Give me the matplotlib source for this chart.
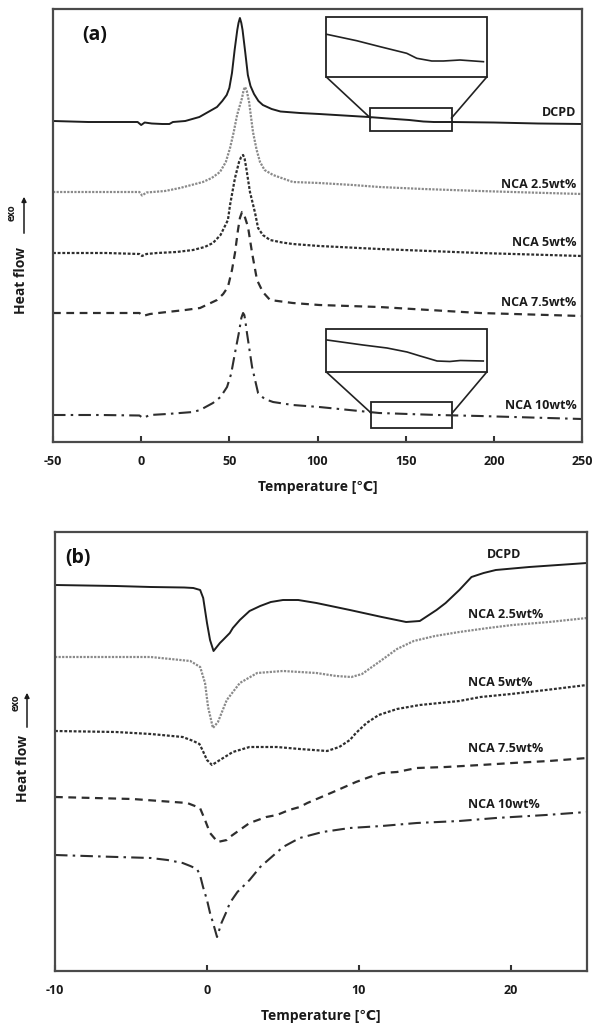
import matplotlib
matplotlib.use("Agg")
import matplotlib.pyplot as plt
from matplotlib.patches import Rectangle, FancyArrowPatch

plt.rcParams['font.family'] = ['Open Sans', 'DejaVu Sans']
plt.rcParams['font.weight'] = 'bold'

# ---------------- (a) heating scans, -50 .. 250 C ----------------
a_dcpd_T = [-50, -50, -30, -10, -2, 0, 2, 6, 12, 16, 18, 25, 33, 40, 43, 46, 48.5, 50, 51.5, 53,
            54.5, 55.2, 56, 56.8, 57.5, 59, 60.5, 62, 64, 66.5, 69, 74, 79, 90, 101, 115, 129, 140,
            152, 160, 166, 176, 200, 225, 250]
a_dcpd_v = [338, 321, 320, 320, 320, 317, 319.5, 318.5, 318, 318, 320, 321, 325, 332, 335, 341, 347,
            354, 369, 392, 412, 419, 424, 419, 412, 390, 367, 356, 348, 341, 337, 333, 330.5, 329,
            328, 326.5, 325, 323.5, 322, 320.5, 320, 320, 319.5, 318.5, 318]

a_nca25_T = [-50, -20, -1, 0.5, 3, 13.5, 22, 35, 40, 44.7, 48, 50.4, 52.5, 54.4, 57.2, 58.1, 58.9, 59.9,
             61.2, 63.4, 65.5, 67.4, 70, 74.8, 86, 101, 120, 135, 160, 192, 220, 250]
a_nca25_v = [250, 250, 250, 246.5, 249.5, 251, 254, 260, 264, 270, 280, 294, 310, 327, 344, 352, 355,
             351, 340, 310, 292, 280, 272, 267, 260, 259, 257, 255, 253, 251, 249.5, 248]

a_nca5_T = [-50, -20, -1, 0.5, 3, 9, 20, 29.4, 36, 40.7, 45, 49.2, 50.4, 53.2, 55.5, 56.7, 57.8, 58.7,
            59.5, 61.7, 64.6, 66.3, 69, 73.1, 80, 86, 101, 135, 192, 250]
a_nca5_v = [189, 189, 188, 186, 188, 189, 190, 192, 195, 199, 207, 222, 237, 264, 280, 285, 287, 283,
            275, 250, 229, 214, 207, 202, 199.5, 198, 196, 193, 189, 186]

a_nca75_T = [-50, -20, -1, 1, 5, 14.7, 25, 33.4, 43, 46.5, 49.2, 51.5, 53.2, 54.9, 56, 57.2, 58, 58.8,
             60.6, 62.9, 65.7, 69, 73.1, 86, 101, 135, 192, 250]
a_nca75_v = [129, 129, 129, 126, 128, 130, 132, 134, 142, 148, 155, 172, 189, 212, 224, 230, 229, 225,
             215, 189, 162, 150, 142, 139, 137, 135, 129, 126]

a_nca10_T = [-50, -23, -1, 1, 5, 14.7, 29.4, 33.4, 40.7, 45, 48.7, 51, 53.2, 55.5, 56.8, 57.8, 58.5, 59,
             60, 62.9, 66.3, 70, 74.8, 86, 101, 135, 168, 192, 250]
a_nca10_v = [27, 27, 26.5, 24, 27, 28, 30, 32, 39, 45, 55, 68, 89, 110, 124, 129, 127, 122, 109, 75, 49,
             43, 40, 37, 35, 29, 27, 26, 23]

# magnified 130-176 C segments shown in the two zoom boxes
zoom_top_T = [105.2, 122.2, 135.5, 150.6, 156.3, 164.8, 171.4, 180.8, 194.1]
zoom_top_v = [407.7, 401.3, 395.3, 388.7, 383.7, 381, 381, 382, 380.3]
zoom_bot_T = [105.4, 125.8, 139.4, 150.8, 158.2, 162.1, 167.8, 175, 181, 194]
zoom_bot_v = [102, 97, 94, 90, 86, 84, 81, 80.5, 81.5, 81]

# ---------------- (b) cooling scans, -10 .. 25 C ----------------
b_dcpd_T = [-10, -6, -3.7, -1.5, -0.9, -0.45, -0.25, 0, 0.2, 0.43, 0.85, 1.05, 1.5, 1.7, 2.16, 2.8,
            3.5, 4.2, 5.0, 6.0, 7.2, 9.4, 11.5, 13.1, 14.0, 15.1, 15.7, 16.6, 17.4, 18.2, 19.0, 21.2, 25]
b_dcpd_v = [386, 385, 384, 383.5, 383, 381, 373, 348, 331, 320, 328, 331, 338, 343, 351, 360, 365,
            369, 371, 371, 368, 361, 354, 349, 350, 361, 368, 381, 394, 398, 401, 404, 408]

b_nca25_T = [-10, -6, -3.7, -1.1, -0.45, -0.13, 0.07, 0.39, 0.72, 1.3, 2.16, 3.3, 5.0, 7.2, 8.5, 9.5,
             10.2, 11.5, 12.5, 13.6, 15, 16.6, 18.5, 20.1, 22.5, 25]
b_nca25_v = [314, 314, 314, 310, 304, 288, 264, 243, 249, 271, 288, 298, 300, 298, 295, 294, 297, 311,
             322, 330, 335, 339, 343, 346, 349, 353]

b_nca5_T = [-10, -6, -3.7, -1.6, -0.9, -0.5, -0.3, 0, 0.33, 0.85, 1.7, 2.8, 4.6, 6.1, 7.9, 8.7, 9.4,
            9.8, 10.5, 11.3, 12.5, 14, 16.6, 18, 20, 22.3, 25]
b_nca5_v = [240, 239, 237, 234, 230, 227, 221, 211, 206, 211, 219, 224, 224, 222, 220, 224, 231, 238,
            248, 256, 262, 266, 270, 274, 277, 281, 286]

b_nca75_T = [-10, -4.9, -1.3, -0.46, -0.13, 0.2, 0.7, 1.3, 1.5, 2.8, 3.9, 4.6, 5.4, 6.1, 6.6, 8.3, 9.8,
             10.7, 11.5, 12.5, 13.8, 15.7, 18, 20.1, 22.5, 25]
b_nca75_v = [174, 172, 168, 163, 151, 138, 129, 131, 134, 148, 154, 156, 161, 164, 168, 179, 189, 194,
             198, 199, 203, 204, 206, 208, 210, 213]

b_nca10_T = [-10, -5.9, -3.7, -2.6, -1.6, -1.1, -0.66, -0.46, -0.26, 0, 0.2, 0.4, 0.66, 0.95, 1.3, 1.5,
             2.0, 2.8, 3.5, 5.0, 6.1, 7.6, 9.4, 11.5, 13.8, 16.6, 19, 22.3, 25]
b_nca10_v = [116, 114, 113, 111, 108, 105, 102, 96, 84, 71, 58, 48, 34, 48, 60, 68, 79, 91, 104, 124,
             133, 139, 143, 145, 148, 150, 153, 156, 159]

series_names = ["DCPD", "NCA 2.5wt%", "NCA 5wt%", "NCA 7.5wt%", "NCA 10wt%"]
a_ticks = [-50, 0, 50, 100, 150, 200, 250]
b_ticks = [-10, 0, 10, 20]

styles = [
    dict(color="#1e1e1e", lw=1.4, ls="-"),
    dict(color="#8a8a8a", lw=1.6, ls=(0, (1.0, 0.6))),
    dict(color="#2e2e2e", lw=1.6, ls=(0, (1.3, 0.8))),
    dict(color="#2e2e2e", lw=1.6, ls=(0, (3.5, 2.5))),
    dict(color="#2e2e2e", lw=1.5, ls=(0, (6, 2.5, 1.2, 2.5))),
]

W, H = 595, 1023
fig = plt.figure(figsize=(W / 100, H / 100), dpi=100)


def add_axes_px(l, t, r, b):
    return fig.add_axes([l / W, 1 - b / H, (r - l) / W, (b - t) / H])


def style_axes(ax, ticks):
    for s in ax.spines.values():
        s.set_linewidth(1.6)
        s.set_color("#4a4a4a")
    ax.set_yticks([])
    ax.set_xticks(ticks)
    ax.set_xticklabels([str(t) for t in ticks], fontsize=9, fontweight="bold", color="#1a1a1a")
    ax.tick_params(axis="x", direction="in", length=4, width=1.5, color="#333333", pad=9)
    ax.set_xlabel("Temperature [\u2103]", fontsize=10, fontweight="bold", color="#1a1a1a", labelpad=9)


def heat_flow_label(x_text, y_text, x_arrow, y0, y1, x_exo, y_exo):
    fig.text(x_text / W, 1 - y_text / H, "Heat flow", rotation=90, ha="center", va="center",
             fontsize=10, fontweight="bold", color="#1a1a1a")
    fig.add_artist(FancyArrowPatch(
        (x_arrow / W, 1 - y0 / H), (x_arrow / W, 1 - y1 / H), transform=fig.transFigure,
        arrowstyle="-|>", mutation_scale=7, lw=1.1, color="#1a1a1a"))
    fig.text(x_exo / W, 1 - y_exo / H, "exo", rotation=90, ha="center", va="center",
             fontsize=7, fontweight="bold", color="#1a1a1a")


# ---- panel (a)
ax1 = add_axes_px(53, 9, 582, 442)
a_T = [a_dcpd_T, a_nca25_T, a_nca5_T, a_nca75_T, a_nca10_T]
a_v = [a_dcpd_v, a_nca25_v, a_nca5_v, a_nca75_v, a_nca10_v]
for T, v, st in zip(a_T, a_v, styles):
    ax1.plot(T, v, color=st["color"], lw=st["lw"], linestyle=st["ls"], solid_capstyle="butt",
             solid_joinstyle="round")
ax1.set_xlim(-50, 250)
ax1.set_ylim(0, 433)
style_axes(ax1, a_ticks)

a_label_y = [329, 258, 199, 140, 37]
for name, y in zip(series_names, a_label_y):
    ax1.text(247, y, name, ha="right", va="center", fontsize=9, fontweight="bold", color="#1a1a1a")
ax1.text(0.055, 0.94, "(a)", transform=ax1.transAxes, fontsize=14, fontweight="bold",
         ha="left", va="center", color="#111111")

# zoom boxes on the DCPD and NCA 10wt% baselines
box_kw = dict(fill=False, lw=1.3, ec="#222222")
ax1.add_patch(Rectangle((105, 365), 91, 60, **box_kw))
ax1.add_patch(Rectangle((130, 311), 46, 23, **box_kw))
ax1.plot([105, 130], [365, 324], color="#222222", lw=1.2)
ax1.plot([196, 176], [365, 324], color="#222222", lw=1.2)
ax1.plot(zoom_top_T, zoom_top_v, color="#222222", lw=1.2)

ax1.add_patch(Rectangle((105, 70), 91, 43, **box_kw))
ax1.add_patch(Rectangle((130.4, 14), 46, 26, **box_kw))
ax1.plot([105, 130.4], [70, 29], color="#222222", lw=1.2)
ax1.plot([196, 176.4], [70, 29], color="#222222", lw=1.2)
ax1.plot(zoom_bot_T, zoom_bot_v, color="#222222", lw=1.2)

heat_flow_label(21, 280, 24, 236, 194, 12, 213)

# ---- panel (b)
ax2 = add_axes_px(55, 532, 587, 971)
b_T = [b_dcpd_T, b_nca25_T, b_nca5_T, b_nca75_T, b_nca10_T]
b_v = [b_dcpd_v, b_nca25_v, b_nca5_v, b_nca75_v, b_nca10_v]
for T, v, st in zip(b_T, b_v, styles):
    ax2.plot(T, v, color=st["color"], lw=st["lw"], linestyle=st["ls"], solid_capstyle="butt",
             solid_joinstyle="round")
ax2.set_xlim(-10, 25)
ax2.set_ylim(0, 439)
style_axes(ax2, b_ticks)

b_label_pos = [(18.4, 416), (17.2, 356), (17.2, 288), (17.2, 223), (17.2, 166)]
for name, (x, y) in zip(series_names, b_label_pos):
    ax2.text(x, y, name, ha="left", va="center", fontsize=9, fontweight="bold", color="#1a1a1a")
ax2.text(0.02, 0.94, "(b)", transform=ax2.transAxes, fontsize=14, fontweight="bold",
         ha="left", va="center", color="#111111")

heat_flow_label(23, 768, 27, 730, 690, 16, 703)

fig.savefig("out.png", dpi=100, facecolor="white")
